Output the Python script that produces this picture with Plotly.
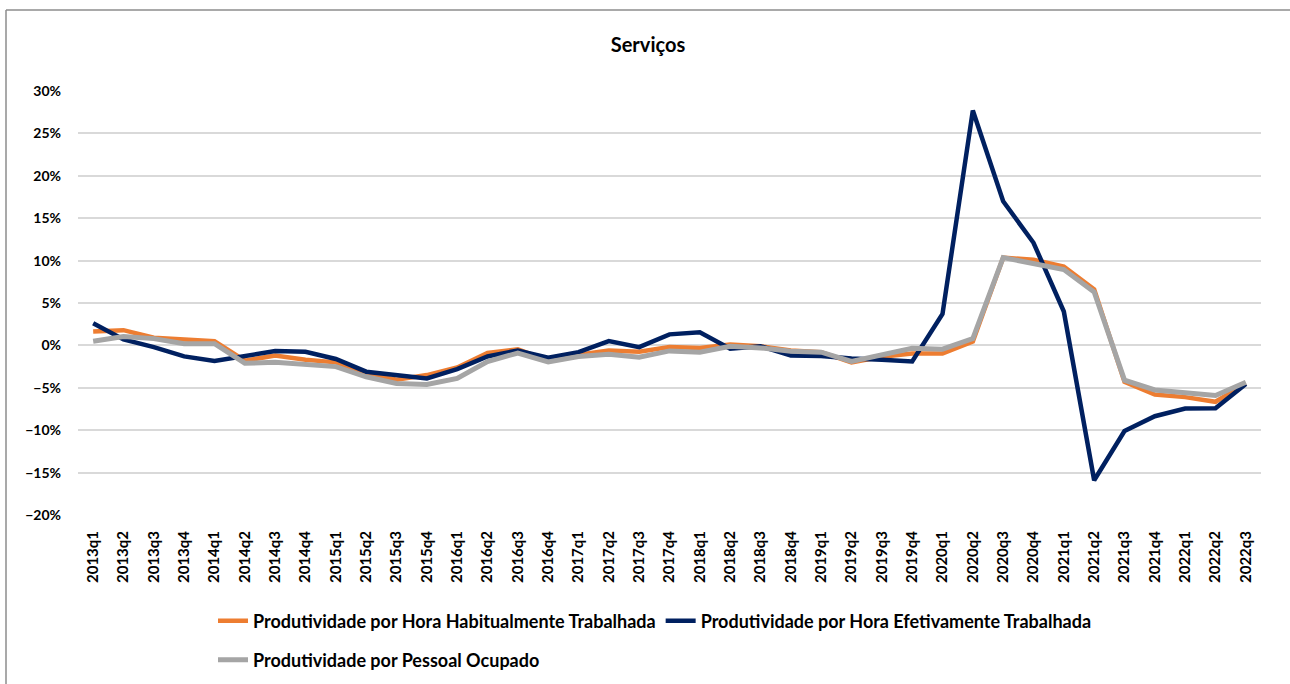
import plotly.graph_objects as go

# quarters 2013q1 .. 2022q3
quarters = [f"{y}q{q}" for y in range(2013, 2023) for q in range(1, 5)][:39]

# productivity growth (%)
habitual = [1.65, 1.8, 0.9, 0.7, 0.5, -1.8, -1.2, -1.7, -2.0, -3.35, -4.05, -3.5,
            -2.6, -0.9, -0.45, -1.8, -1.1, -0.6, -0.75, -0.2, -0.3, 0.1, -0.1, -0.6,
            -0.8, -2.0, -1.35, -0.95, -0.95, 0.45, 10.35, 10.1, 9.3, 6.6, -4.3, -5.8,
            -6.1, -6.65, -4.5]
efetiva = [2.6, 0.7, -0.2, -1.3, -1.85, -1.3, -0.67, -0.75, -1.6, -3.1, -3.5, -3.9,
           -2.8, -1.3, -0.6, -1.45, -0.8, 0.5, -0.2, 1.3, 1.55, -0.4, -0.1, -1.2,
           -1.25, -1.55, -1.7, -1.9, 3.7, 27.7, 17.0, 12.1, 4.0, -15.9, -10.1, -8.35,
           -7.45, -7.4, -4.55]
pessoal = [0.5, 1.06, 0.8, 0.2, 0.2, -2.1, -2.0, -2.3, -2.5, -3.7, -4.5, -4.6,
           -3.9, -1.9, -0.9, -1.95, -1.3, -1.05, -1.4, -0.65, -0.8, -0.1, -0.3, -0.7,
           -0.8, -1.9, -1.15, -0.35, -0.45, 0.8, 10.35, 9.7, 8.95, 6.3, -4.1, -5.25,
           -5.6, -5.9, -4.35]

names = ["Produtividade por Hora Habitualmente Trabalhada",
         "Produtividade por Hora Efetivamente Trabalhada",
         "Produtividade por Pessoal Ocupado"]
colors = ["#ED7D31", "#002060", "#A5A5A5"]

font = "Lato"
# figure is a bit taller than the 684px window so the legend never squeezes the plot
W, H = 1290, 704
L, R, T = 78, 29, 91
B = H - 515

fig = go.Figure()
fig.add_trace(go.Scatter(x=quarters, y=[v / 100 for v in habitual], name=names[0],
                         mode="lines", line=dict(color=colors[0], width=4.5), legend="legend"))
fig.add_trace(go.Scatter(x=quarters, y=[v / 100 for v in efetiva], name=names[1],
                         mode="lines", line=dict(color=colors[1], width=4.5), legend="legend"))
fig.add_trace(go.Scatter(x=quarters, y=[v / 100 for v in pessoal], name=names[2],
                         mode="lines", line=dict(color=colors[2], width=5), legend="legend2"))

# outer chart border (left and top visible)
pw, ph = W - L - R, H - T - B
bx = (6 - L) / pw
by = (H - B - 10) / ph
fig.add_shape(type="line", xref="paper", yref="paper", x0=bx, x1=bx, y0=by, y1=-1,
              line=dict(color="#8C8C8C", width=1.5))
fig.add_shape(type="line", xref="paper", yref="paper", x0=bx, x1=1.2, y0=by, y1=by,
              line=dict(color="#8C8C8C", width=1.5))

fig.update_layout(
    width=W, height=H,
    margin=dict(l=L, r=R, t=T, b=B),
    paper_bgcolor="white", plot_bgcolor="white",
    font=dict(family=font, color="#000000"),
    title=dict(text="<b>Serviços</b>", x=648 / W, xanchor="center",
               y=1 - 45 / H, yanchor="middle", yref="container",
               font=dict(size=20, family=font)),
    showlegend=True,
    legend=dict(orientation="h", x=(213 - L) / pw, xanchor="left",
                y=(H - B - 621) / ph, yanchor="middle",
                font=dict(size=18, family=font, weight="bold"),
                itemwidth=30, tracegroupgap=0),
    legend2=dict(orientation="h", x=(213 - L) / pw, xanchor="left",
                 y=(H - B - 660) / ph, yanchor="middle",
                 font=dict(size=18, family=font, weight="bold"),
                 itemwidth=30),
)

fig.update_xaxes(type="category", range=[-0.5, 38.5], tickangle=-90,
                 showgrid=False, showline=False, ticks="",
                 tickfont=dict(size=15, family=font, weight="bold"),
                 ticklabelstandoff=12)
fig.update_yaxes(range=[-0.2, 0.3], dtick=0.05, tickformat=".0%",
                 showgrid=True, gridcolor="#D9D9D9", gridwidth=1.5,
                 zeroline=True, zerolinecolor="#D9D9D9", zerolinewidth=1.5,
                 showline=False, ticks="",
                 tickfont=dict(size=14, family=font, weight="bold"),
                 ticklabelstandoff=16)

# drop the default page margin so the figure sits at the window origin
fig.write_html("out.html", config={"displayModeBar": False},
               post_script="document.body.style.margin='0';"
                           "document.body.style.overflow='hidden';")
